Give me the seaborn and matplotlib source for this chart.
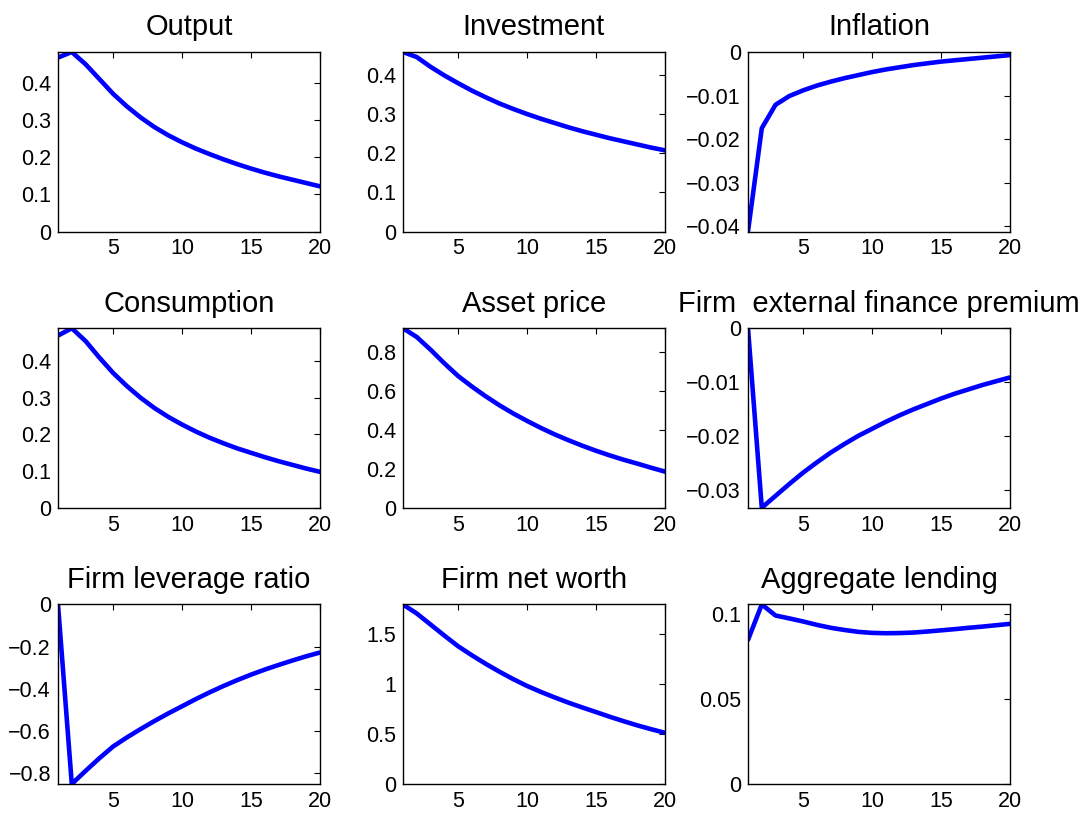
import numpy as np
import pandas as pd
import matplotlib
matplotlib.use('Agg')
import matplotlib.pyplot as plt
import seaborn as sns
from matplotlib.ticker import FuncFormatter

# Datos de las respuestas impulso (periodos 1..20)
periodos = list(range(1, 21))

output = [0.470, 0.485, 0.452, 0.412, 0.372, 0.338, 0.308, 0.282, 0.260, 0.241,
          0.224, 0.209, 0.195, 0.182, 0.170, 0.159, 0.149, 0.140, 0.131, 0.122]
investment = [0.460, 0.447, 0.422, 0.400, 0.380, 0.361, 0.344, 0.328, 0.314, 0.301,
              0.289, 0.278, 0.267, 0.257, 0.248, 0.239, 0.231, 0.223, 0.215, 0.208]
inflation = [-0.0412, -0.0175, -0.0121, -0.0101, -0.0088, -0.0077, -0.0068, -0.0060, -0.0053, -0.0046,
             -0.0040, -0.0035, -0.0030, -0.0026, -0.0022, -0.0019, -0.0016, -0.0013, -0.0010, -0.0007]
consumption = [0.470, 0.490, 0.455, 0.410, 0.368, 0.332, 0.300, 0.272, 0.248, 0.227,
               0.208, 0.191, 0.176, 0.162, 0.150, 0.138, 0.127, 0.117, 0.107, 0.098]
asset_price = [0.920, 0.875, 0.810, 0.740, 0.675, 0.621, 0.571, 0.525, 0.483, 0.445,
               0.409, 0.376, 0.346, 0.318, 0.292, 0.268, 0.246, 0.226, 0.205, 0.185]
premium = [0.0, -0.0332, -0.0310, -0.0288, -0.0267, -0.0248, -0.0230, -0.0214, -0.0199, -0.0186,
           -0.0173, -0.0161, -0.0150, -0.0140, -0.0130, -0.0121, -0.0113, -0.0105, -0.0098, -0.0091]
leverage = [0.0, -0.852, -0.790, -0.730, -0.674, -0.631, -0.591, -0.553, -0.517, -0.483,
            -0.449, -0.417, -0.387, -0.359, -0.333, -0.309, -0.287, -0.266, -0.246, -0.228]
net_worth = [1.790, 1.700, 1.590, 1.480, 1.373, 1.283, 1.198, 1.119, 1.045, 0.977,
             0.918, 0.863, 0.811, 0.763, 0.717, 0.670, 0.626, 0.584, 0.546, 0.510]
lending = [0.0847, 0.1055, 0.0990, 0.0973, 0.0955, 0.0935, 0.0918, 0.0905, 0.0894, 0.0888,
           0.0886, 0.0887, 0.0890, 0.0896, 0.0903, 0.0910, 0.0918, 0.0925, 0.0933, 0.0941]

titulos = ['Output', 'Investment', 'Inflation',
           'Consumption', 'Asset price', 'Firm  external finance premium',
           'Firm leverage ratio', 'Firm net worth', 'Aggregate lending']
series = [output, investment, inflation,
          consumption, asset_price, premium,
          leverage, net_worth, lending]
limites_y = [(0, 0.485), (0, 0.46), (-0.0412, 0),
             (0, 0.49), (0, 0.92), (-0.0332, 0),
             (-0.852, 0), (0, 1.79), (0, 0.1055)]
ticks_y = [[0, 0.1, 0.2, 0.3, 0.4], [0, 0.1, 0.2, 0.3, 0.4], [-0.04, -0.03, -0.02, -0.01, 0],
           [0, 0.1, 0.2, 0.3, 0.4], [0, 0.2, 0.4, 0.6, 0.8], [-0.03, -0.02, -0.01, 0],
           [-0.8, -0.6, -0.4, -0.2, 0], [0, 0.5, 1, 1.5], [0, 0.05, 0.1]]

sns.set_style('white')
plt.rcParams['font.family'] = ['Liberation Sans', 'DejaVu Sans']
plt.rcParams['text.color'] = 'black'
plt.rcParams['axes.unicode_minus'] = True

fig, axes = plt.subplots(3, 3, figsize=(10.9, 8.14), dpi=100)
fig.subplots_adjust(left=0.0532, right=0.9266, bottom=0.0369, top=0.9361,
                    wspace=0.3168, hspace=0.539)

fmt = FuncFormatter(lambda v, p: ('%g' % v).replace('-', '\u2212'))

for ax, titulo, valores, lim, yt in zip(axes.flat, titulos, series, limites_y, ticks_y):
    df = pd.DataFrame({'periodo': periodos, 'valor': valores})
    sns.lineplot(data=df, x='periodo', y='valor', ax=ax, color='#0000ff', linewidth=3.3)
    ax.set_xlim(1, 20)
    ax.set_ylim(*lim)
    ax.set_xticks([5, 10, 15, 20])
    ax.set_yticks(yt)
    ax.yaxis.set_major_formatter(fmt)
    ax.set_xlabel('')
    ax.set_ylabel('')
    ax.set_title(titulo, fontsize=21, pad=12, color='black')
    ax.tick_params(direction='in', length=4, width=0.8, labelsize=15.5, pad=5,
                   top=True, right=True, colors='black')
    for s in ax.spines.values():
        s.set_color('black')
        s.set_linewidth(1.0)

plt.savefig('out.png', dpi=100)
